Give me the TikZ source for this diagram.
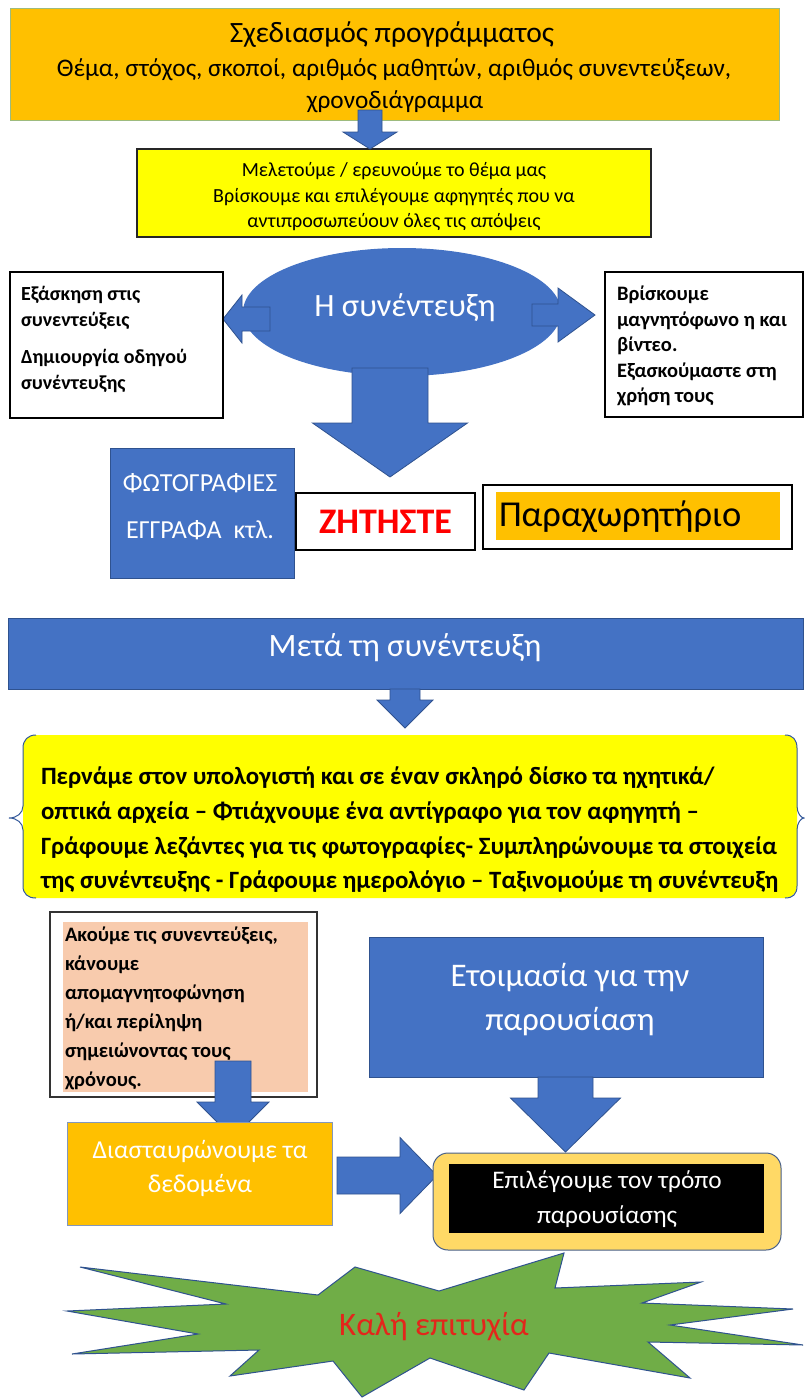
\documentclass[tikz,border=0pt]{standalone}
\usepackage{fontspec}
\setmainfont{Carlito}
\usetikzlibrary{shapes.geometric}
\definecolor{cBlue}{HTML}{4472C4}
\definecolor{cBlueDark}{HTML}{2F528F}
\definecolor{cOrange}{HTML}{FFC000}
\definecolor{cYellow}{HTML}{FFFF00}
\definecolor{cSalmon}{HTML}{F8CBAD}
\definecolor{cGold}{HTML}{FFD966}
\definecolor{cGreen}{HTML}{70AD47}
\definecolor{cGreenLine}{HTML}{9DBB7E}
\definecolor{cRed}{HTML}{FF0000}
\definecolor{cRedTwo}{HTML}{E3261B}
\newcommand\fsz[2]{\fontsize{#1}{#2}\selectfont}
\newcommand\rectnode[6]{\node[#6, anchor=north west, minimum width={(#4)-(#2)}, minimum height={(#5)-(#3)}, inner sep=0pt, outer sep=0pt] (#1) at (#2,#3) {};}
% cx, top, shaft half width, head base, head half width, tip
\newcommand\blkdown[6]{\filldraw[blockarrow] ({#1-#3},#2) -- ({#1+#3},#2) -- ({#1+#3},#4) -- ({#1+#5},#4) -- (#1,#6) -- ({#1-#5},#4) -- ({#1-#3},#4) -- cycle;}
% cy, start x, shaft half width, head base x, head half width, tip x
\newcommand\blkhoriz[6]{\filldraw[blockarrow] (#2,{#1-#3}) -- (#4,{#1-#3}) -- (#4,{#1-#5}) -- (#6,#1) -- (#4,{#1+#5}) -- (#4,{#1+#3}) -- (#2,{#1+#3}) -- cycle;}
\begin{document}
\begin{tikzpicture}[x=1pt,y=-1pt,
  txt/.style={inner sep=0pt, outer sep=0pt, align=center},
  blockarrow/.style={fill=cBlue, draw=cBlueDark, line width=0.8pt, line join=miter},
  blackbox/.style={draw=black, line width=1.2pt, fill=white},
  bluebox/.style={fill=cBlue, draw=cBlueDark, line width=0.6pt},
]
\useasboundingbox (0,0) rectangle (805,1398);
\fill[white] (0,0) rectangle (805,1398);

% ---- planning box
\rectnode{plan}{10}{8}{779}{120}{fill=cOrange, draw=cGreenLine, line width=1pt}
\node[txt, font=\fsz{29.5}{32}] (planA) at (392,35) {Σχεδιασμός προγράμματος};
\node[txt, font=\fsz{25.3}{30}] (planB) at (394,70) {Θέμα, στόχος, σκοποί, αριθμός μαθητών, αριθμός συνεντεύξεων,};
\node[txt, font=\fsz{25.3}{30}] (planC) at (395,102) {χρονοδιάγραμμα};

% ---- study box
\rectnode{study}{137}{149}{651}{237}{fill=cYellow, draw=black!85, line width=1.3pt}
\node[txt, font=\fsz{20}{25.5}] (studyT) at (394,197) {Μελετούμε / ερευνούμε το θέμα μας\\Βρίσκουμε και επιλέγουμε αφηγητές που να\\αντιπροσωπεύουν όλες τις απόψεις};
\blkdown{370}{110}{12}{132}{27}{149}

% ---- interview ellipse
\node[ellipse, fill=cBlue, minimum width=318, minimum height=128, inner sep=0pt] (intv) at (402,312) {};
\blkhoriz{319}{270}{12}{242}{24}{223}
\blkhoriz{315}{532}{11}{558}{27}{595}
\node[txt, text=white, font=\fsz{32.5}{36}] (intvT) at (405,308) {Η συνέντευξη};

\rectnode{prep}{10}{272}{223}{418}{blackbox}
\node[txt, align=left, anchor=west, font=\bfseries\fsz{20}{26}] (prepT) at (21,339) {Εξάσκηση στις\\συνεντεύξεις\\[11pt]Δημιουργία οδηγού\\συνέντευξης};
\rectnode{rec}{605}{272}{803}{417}{blackbox}
\node[txt, align=left, anchor=west, font=\bfseries\fsz{20.5}{25.5}] (recT) at (617,346) {Βρίσκουμε\\μαγνητόφωνο η και\\βίντεο.\\Εξασκούμαστε στη\\χρήση τους};

\blkdown{390}{368}{38}{423}{77.5}{477}

% ---- photos / ask / permission
\rectnode{photo}{110}{448}{294}{578}{bluebox}
\node[txt, text=white, font=\fsz{26}{47}] (photoT) at (200,507) {ΦΩΤΟΓΡΑΦΊΕΣ\\ΕΓΓΡΑΦΑ\ \ κτλ.};
\rectnode{ask}{296}{493}{475}{550}{blackbox}
\node[txt, text=cRed, font=\bfseries\fsz{36}{40}] (askT) at (385.5,522) {ΖΗΤΗΣΤΕ};
\rectnode{perm}{483}{485}{792}{549}{blackbox}
\rectnode{permIn}{496}{492}{780}{540}{fill=cOrange}
\node[txt, anchor=west, font=\fsz{36.5}{40}] (permT) at (499,517) {Παραχωρητήριο};

% ---- after interview
\rectnode{after}{8}{618}{803}{689}{bluebox}
\node[txt, text=white, font=\fsz{32.6}{36}] (afterT) at (405,648) {Μετά τη συνέντευξη};
\blkdown{405}{689}{15}{700}{28}{728}

% ---- brace box
\fill[cYellow, rounded corners=12pt] (23,735) rectangle (797,898);
\draw[cBlueDark!80!cBlue, line width=1pt] (36,735) .. controls (28,735) and (23,740) .. (23,748) -- (23,806) .. controls (23,813) and (17,818) .. (9,818) .. controls (17,818) and (23,823) .. (23,830) -- (23,886) .. controls (23,894) and (28,898) .. (36,898);
\draw[cBlueDark!80!cBlue, line width=1pt] (785,735) .. controls (793,735) and (797,740) .. (797,748) -- (797,806) .. controls (797,813) and (801,818) .. (804,818) .. controls (801,818) and (797,823) .. (797,830) -- (797,886) .. controls (797,894) and (793,898) .. (785,898);
\node[txt, align=left, anchor=west, font=\bfseries\fsz{24.9}{34.7}] (digT) at (41,830) {Περνάμε στον υπολογιστή και σε έναν σκληρό δίσκο τα ηχητικά/\\οπτικά αρχεία – Φτιάχνουμε ένα αντίγραφο για τον αφηγητή –\\Γράφουμε λεζάντες για τις φωτογραφίες- Συμπληρώνουμε τα στοιχεία\\της συνέντευξης - Γράφουμε ημερολόγιο – Ταξινομούμε τη συνέντευξη};

% ---- listen box
\rectnode{listen}{50}{912}{317}{1097}{draw=black!80, line width=2pt, fill=white}
\rectnode{listenIn}{63}{922}{308}{1092}{fill=cSalmon}
\node[txt, align=left, anchor=west, font=\bfseries\fsz{20.5}{29}] (listenT) at (65,1008) {Ακούμε τις συνεντεύξεις,\\κάνουμε\\απομαγνητοφώνηση\\ή/και περίληψη\\σημειώνοντας τους\\χρόνους.};

\rectnode{prepare}{369}{937}{763}{1077}{bluebox}
\node[txt, text=white, font=\fsz{33}{44}] (prepareT) at (570,1000) {Ετοιμασία για την\\παρουσίαση};

\blkdown{233}{1061}{18}{1102}{36}{1138}

\rectnode{cross}{67}{1122}{332}{1225}{fill=cOrange, draw=cBlueDark!60, line width=0.6pt}
\node[txt, text=white, font=\fsz{25.8}{34}] (crossT) at (200,1168) {Διασταυρώνουμε τα\\δεδομένα};

\blkhoriz{1175.5}{337}{18.5}{400}{38}{437}
\blkdown{565.5}{1077}{27.5}{1098}{55}{1152}

\draw[fill=cGold, draw=cBlueDark!70!gray, line width=1pt, rounded corners=15pt] (433,1153) rectangle (781,1250);
\rectnode{chooseIn}{449}{1164}{764}{1233}{fill=black}
\node[txt, text=white, font=\fsz{25.3}{35}] (chooseT) at (607,1199.5) {Επιλέγουμε τον τρόπο\\παρουσίασης};

% ---- star
\filldraw[fill=cGreen, draw=cBlueDark, line width=1pt, line join=miter] (80,1267) -- (318,1295) -- (355,1267) -- (439,1291) -- (564,1253) -- (555,1288) -- (701,1282) -- (642,1303) -- (793,1309) -- (670,1325) -- (803,1345) -- (648,1342) -- (690,1378) -- (549,1353) -- (524,1390) -- (430,1358) -- (362,1397) -- (333,1361) -- (230,1376) -- (259,1350) -- (72,1354) -- (198,1334) -- (67,1311) -- (226,1304) -- cycle;
\node[txt, text=cRedTwo, font=\fsz{32.8}{36}] (luck) at (434,1327) {Καλή επιτυχία};
\end{tikzpicture}
\end{document}
